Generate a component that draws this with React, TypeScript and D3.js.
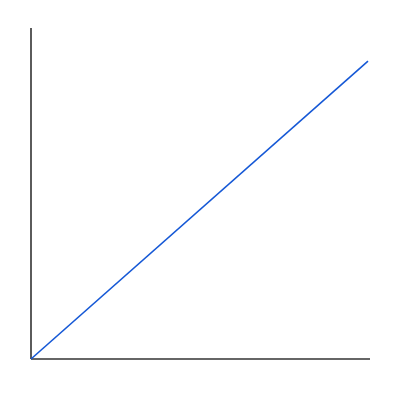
import React from "react";
import * as d3 from "d3";

const xValues = [0, 100];
const yValues = [0, 90];

const W = 400;
const H = 400;
const margin = { left: 31, right: 30, top: 28, bottom: 41 };

export default function App() {
  const x = d3.scaleLinear().domain([0, 100.6]).range([margin.left, W - margin.right]);
  const y = d3.scaleLinear().domain([0, 100]).range([H - margin.bottom, margin.top]);
  const pts: [number, number][] = xValues.map((v, i) => [v, yValues[i]]);
  const line = d3.line<[number, number]>().x((d) => x(d[0])).y((d) => y(d[1]));
  return (
    <svg width={W} height={H} style={{ position: "absolute", left: 0, top: 0 }}>
      <rect width={W} height={H} fill="#fff" />
      <line x1={x(0)} x2={x(100.6)} y1={y(0)} y2={y(0)} stroke="#333" strokeWidth={1.6} />
      <line x1={x(0)} x2={x(0)} y1={y(0)} y2={y(100)} stroke="#333" strokeWidth={1.6} />
      <path d={line(pts) || ""} fill="none" stroke="#1558d6" strokeWidth={1.6} />
    </svg>
  );
}
